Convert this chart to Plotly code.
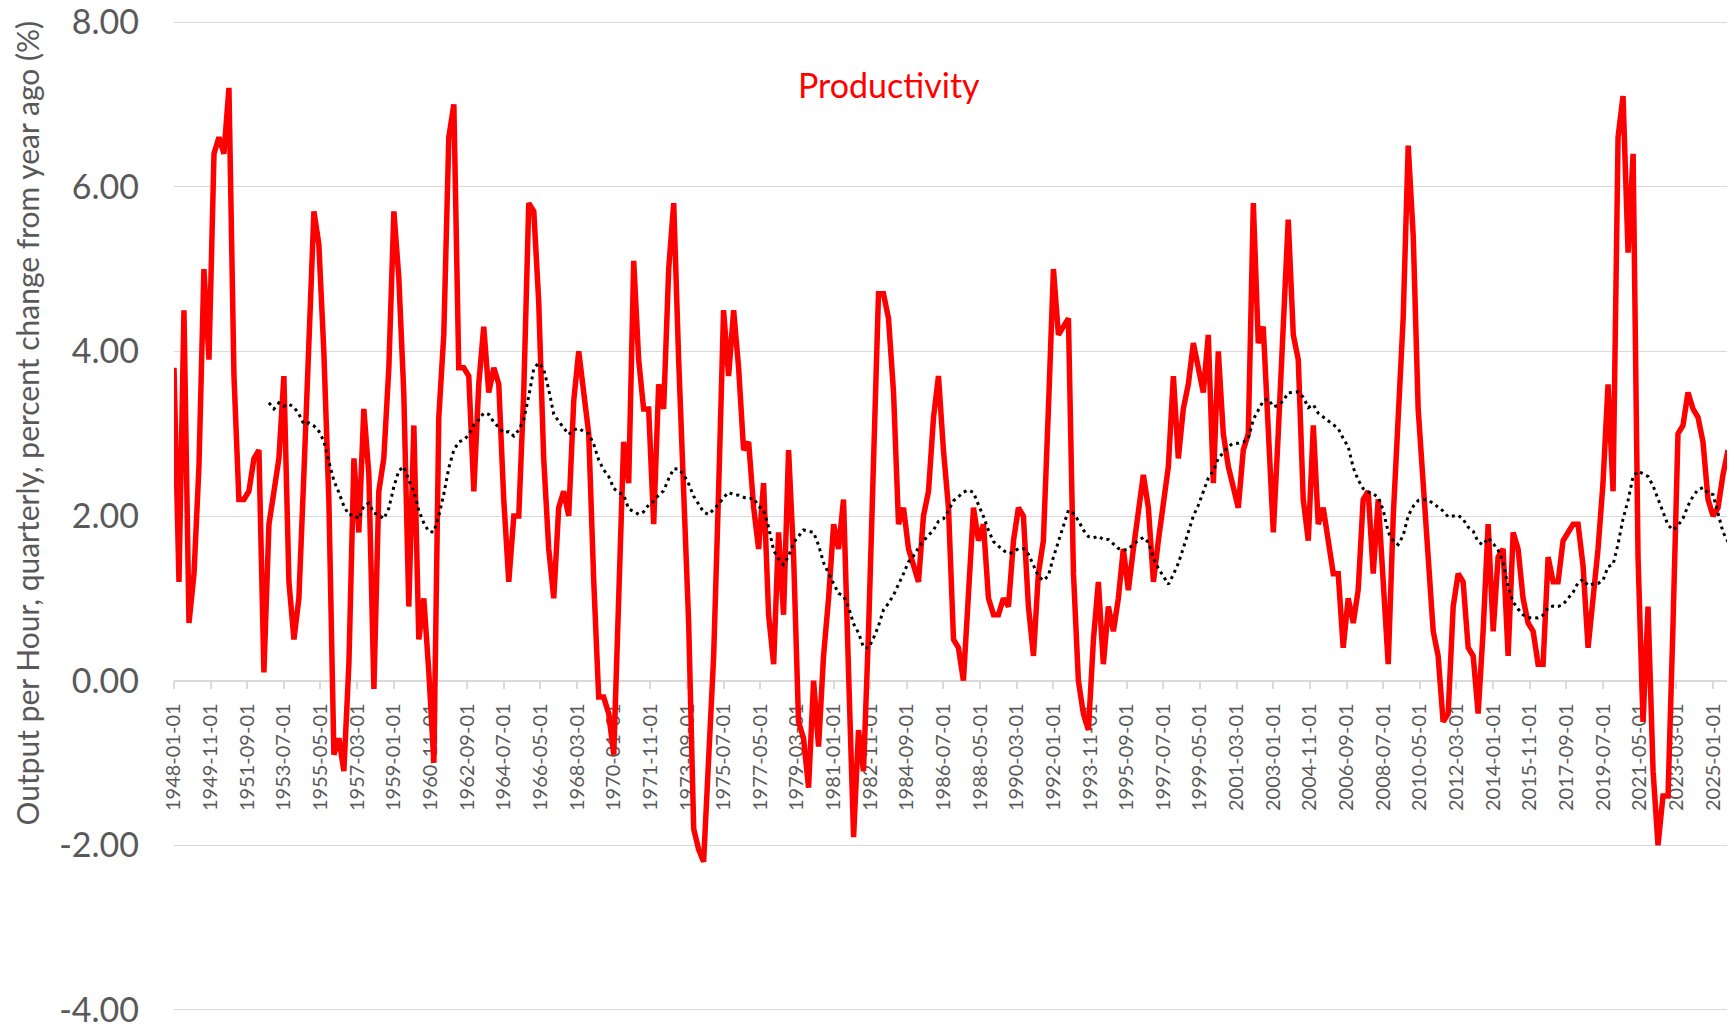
import pandas as pd
import plotly.graph_objects as go

# quarterly productivity, % change from year ago (one row per year, 1948..2025)
productivity = [
    3.8, 1.2, 4.5, 0.7,
    1.3, 2.6, 5.0, 3.9,
    6.4, 6.6, 6.4, 7.2,
    3.7, 2.2, 2.2, 2.3,
    2.7, 2.8, 0.1, 1.9,
    2.3, 2.7, 3.7, 1.2,
    0.5, 1.0, 2.5, 4.2,
    5.7, 5.3, 4.0, 2.2,
    -0.9, -0.7, -1.1, 0.2,
    2.7, 1.8, 3.3, 2.5,
    -0.1, 2.3, 2.7, 3.8,
    5.7, 4.9, 3.5, 0.9,
    3.1, 0.5, 1.0, 0.1,
    -1.0, 3.2, 4.2, 6.6,
    7.0, 3.8, 3.8, 3.7,
    2.3, 3.6, 4.3, 3.5,
    3.8, 3.6, 2.2, 1.2,
    2.0, 2.0, 3.5, 5.8,
    5.7, 4.6, 2.7, 1.6,
    1.0, 2.1, 2.3, 2.0,
    3.4, 4.0, 3.5, 3.0,
    1.2, -0.2, -0.2, -0.4,
    -0.9, 1.0, 2.9, 2.4,
    5.1, 3.9, 3.3, 3.3,
    1.9, 3.6, 3.3, 5.0,
    5.8, 3.9, 2.2, 0.7,
    -1.8, -2.05, -2.2, -1.0,
    0.3, 2.3, 4.5, 3.7,
    4.5, 3.8, 2.8, 2.9,
    2.1, 1.6, 2.4, 0.8,
    0.2, 1.8, 0.8, 2.8,
    1.5, -0.5, -0.7, -1.3,
    0.0, -0.8, 0.3, 1.0,
    1.9, 1.6, 2.2, 0.1,
    -1.9, -0.6, -1.1, 0.6,
    2.7, 4.7, 4.7, 4.4,
    3.5, 1.9, 2.1, 1.6,
    1.4, 1.2, 2.0, 2.3,
    3.2, 3.7, 2.8, 2.1,
    0.5, 0.4, 0.0, 1.1,
    2.1, 1.7, 1.9, 1.0,
    0.8, 0.8, 1.0, 0.9,
    1.7, 2.1, 2.0, 0.9,
    0.3, 1.3, 1.7, 3.3,
    5.0, 4.2, 4.3, 4.4,
    1.3, 0.0, -0.4, -0.6,
    0.5, 1.2, 0.2, 0.9,
    0.6, 1.0, 1.6, 1.1,
    1.6, 2.1, 2.5, 2.1,
    1.2, 1.7, 2.2, 2.6,
    3.7, 2.7, 3.3, 3.6,
    4.1, 3.8, 3.5, 4.2,
    2.4, 4.0, 3.0, 2.6,
    2.35, 2.1, 2.8, 3.0,
    5.8, 4.1, 4.3, 3.1,
    1.8, 3.0, 4.4, 5.6,
    4.2, 3.9, 2.2, 1.7,
    3.1, 1.9, 2.1, 1.65,
    1.3, 1.3, 0.4, 1.0,
    0.7, 1.1, 2.2, 2.3,
    1.3, 2.2, 1.3, 0.2,
    2.0, 3.1, 4.4, 6.5,
    5.4, 3.3, 2.4, 1.4,
    0.6, 0.3, -0.5, -0.4,
    0.9, 1.3, 1.2, 0.4,
    0.3, -0.4, 0.6, 1.9,
    0.6, 1.5, 1.6, 0.3,
    1.8, 1.6, 1.0, 0.7,
    0.6, 0.2, 0.2, 1.5,
    1.2, 1.2, 1.7, 1.8,
    1.9, 1.9, 1.4, 0.4,
    1.0, 1.6, 2.4, 3.6,
    2.3, 6.6, 7.1, 5.2,
    6.4, 1.5, -0.5, 0.9,
    -1.1, -2.0, -1.4, -1.4,
    0.7, 3.0, 3.1, 3.5,
    3.3, 3.2, 2.9, 2.2,
    2.0, 2.1, 2.5, 2.8,
]

dates = pd.date_range("1948-01-01", periods=len(productivity), freq="QS")

# excel-style moving average trendline, period 20
ma_period = 20
trend = pd.Series(productivity).rolling(ma_period).mean()

y_tickvals = [-4, -2, 0, 2, 4, 6, 8]
y_ticktext = ["-4.00", "-2.00", "0.00", "2.00", "4.00", "6.00", "8.00"]
x_tickvals = pd.date_range("1948-01-01", "2025-01-01", freq="22MS")
x_ticktext = [d.strftime("%Y-%m-%d") for d in x_tickvals]

FONT = "Lato"
GREY = "#595959"
GRID = "#D9D9D9"

fig = go.Figure()
fig.add_trace(go.Scatter(x=dates, y=productivity, mode="lines",
                         line=dict(color="#FF0000", width=5.5),
                         name="Productivity"))
fig.add_trace(go.Scatter(x=dates, y=trend, mode="lines",
                         line=dict(color="#000000", width=3, dash="3px,4px"),
                         name="20 per. Mov. Avg."))

# page body has an 8px margin, figure starts at (8, 8);
# y range padded a hair so the 8 and -4 gridlines are drawn
fig.update_layout(
    width=1727, height=1018,
    template="none",
    paper_bgcolor="white", plot_bgcolor="white",
    showlegend=False,
    margin=dict(l=166, r=7, t=12, b=14),
    font=dict(family=FONT, color=GREY),
    xaxis=dict(
        type="date",
        range=[dates[0], dates[-1]],
        anchor="free", position=4.025 / 12.05,
        showgrid=False, zeroline=False,
        showline=True, linecolor=GRID, linewidth=1.5,
        ticks="outside", ticklen=8, tickcolor=GRID, tickwidth=1.5,
        tickvals=x_tickvals, ticktext=x_ticktext,
        tickangle=-90, tickfont=dict(size=20, color=GREY, family=FONT),
        ticklabelstandoff=6,
        layer="below traces", automargin=False,
    ),
    yaxis=dict(
        range=[-4.025, 8.025],
        tickvals=y_tickvals, ticktext=y_ticktext,
        showgrid=True, gridcolor=GRID, gridwidth=1.3,
        zeroline=False, showline=False, ticks="",
        tickfont=dict(size=34, color=GREY, family=FONT),
        ticklabelstandoff=34, ticklabeloverflow="allow", automargin=False,
    ),
    annotations=[
        dict(text="Productivity", x=0.4598, y=0.935, xref="paper", yref="paper",
             xanchor="center", yanchor="middle", showarrow=False,
             font=dict(size=34, color="#FF0000", family=FONT)),
        dict(text="Output per Hour, quarterly, percent change from year ago (%)",
             x=-0.0947, y=0.594, xref="paper", yref="paper", textangle=-90,
             xanchor="center", yanchor="middle", showarrow=False,
             font=dict(size=30, color=GREY, family=FONT)),
    ],
)

fig.write_html("out.html")
